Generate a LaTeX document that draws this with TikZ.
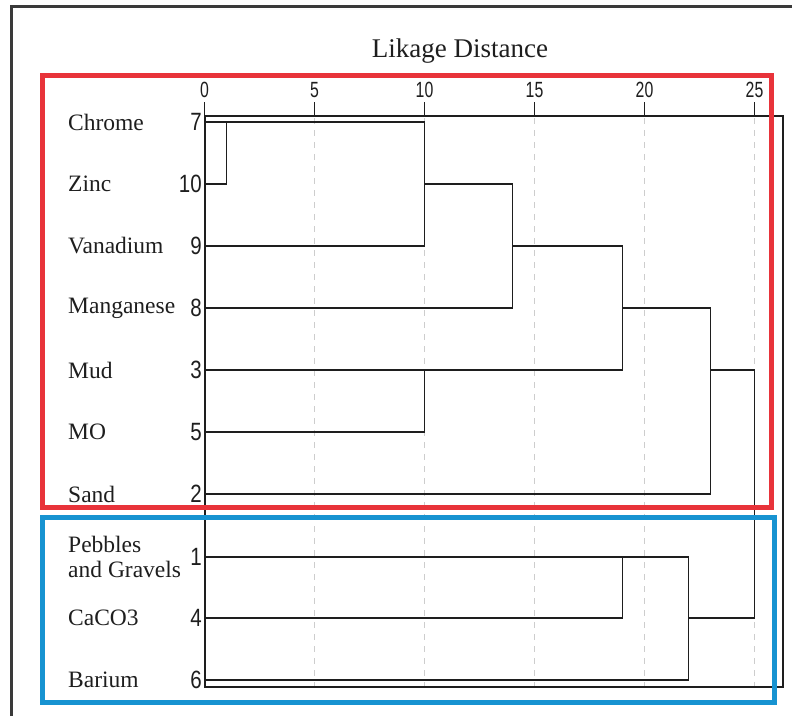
\documentclass[tikz,border=0pt]{standalone}
\usepackage{fontspec}
\setmainfont{Liberation Serif}
\newfontfamily\rownum[FakeStretch=0.82]{Liberation Sans}
\newfontfamily\ticknum[FakeStretch=0.72]{Liberation Sans}
\definecolor{redbox}{HTML}{E8333A}
\definecolor{bluebox}{HTML}{1793D1}
\definecolor{ink}{HTML}{1E1E1E}
\definecolor{framec}{HTML}{3A3A3A}
\definecolor{gridc}{HTML}{CDCDCD}
\tikzset{
  lab/.style={anchor=west, inner sep=0pt, font=\fontsize{23.5}{25}\selectfont, text=ink},
  num/.style={anchor=east, inner sep=0pt, font=\rownum\fontsize{25}{25}\selectfont, text=ink},
  tick/.style={anchor=base, inner sep=0pt, font=\ticknum\fontsize{22}{22}\selectfont, text=ink},
  tree/.style={draw=ink, line width=1.5pt},
  gridl/.style={draw=gridc, line width=1pt, dash pattern=on 6pt off 6pt},
  axisl/.style={draw=ink, line width=1.2pt},
  groupbox/.style={line width=5pt},
}
\begin{document}
\begin{tikzpicture}[x=1pt, y=-1pt]
\useasboundingbox (0,0) rectangle (792,716);
% outer frame (partially shown)
\draw[framec, line width=3pt] (11,716) -- (11,6) -- (792,6);
% title
\node[inner sep=0pt, font=\fontsize{27}{27}\selectfont, text=ink] (title) at (460,51) {Likage Distance};
% grid lines
\foreach \d in {5,10,15,20,25}{
  \draw[gridl] (204.5+22*\d,118) -- (204.5+22*\d,686);
}
% axis frame and ticks
\draw[axisl] (205,116) rectangle (783,687);
\foreach \d in {0,5,10,15,20,25}{
  \draw[axisl] (204.5+22*\d,102) -- (204.5+22*\d,116);
  \node[tick] (t\d) at (204.5+22*\d,97) {\d};
}
% row labels
\node[lab] (chrome) at (68,122) {Chrome};
\node[lab] (zinc) at (68,184) {Zinc};
\node[lab] (vanadium) at (68,246) {Vanadium};
\node[lab] (manganese) at (68,308) {Manganese};
\node[lab] (mud) at (68,370) {Mud};
\node[lab] (mo) at (68,432) {MO};
\node[lab] (sand) at (68,494) {Sand};
\node[lab, align=left] (pebbles) at (68,557) {Pebbles\\and Gravels};
\node[lab] (caco) at (68,618) {CaCO3};
\node[lab] (barium) at (68,680) {Barium};
% row numbers
\node[num] (n7) at (202,122) {7};
\node[num] (n10) at (202,184) {10};
\node[num] (n9) at (202,246) {9};
\node[num] (n8) at (202,308) {8};
\node[num] (n3) at (202,370) {3};
\node[num] (n5) at (202,432) {5};
\node[num] (n2) at (202,494) {2};
\node[num] (n1) at (202,557) {1};
\node[num] (n4) at (202,618) {4};
\node[num] (n6) at (202,680) {6};
% leaf coordinates
\coordinate (l7) at (205,122);
\coordinate (l10) at (205,184);
\coordinate (l9) at (205,246);
\coordinate (l8) at (205,308);
\coordinate (l3) at (205,370);
\coordinate (l5) at (205,432);
\coordinate (l2) at (205,494);
\coordinate (l1) at (205,557);
\coordinate (l4) at (205,618);
\coordinate (l6) at (205,680);
% dendrogram
\draw[tree] (l10) -- (226.5,184) -- (226.5,122);
\draw[tree] (l7) -- (424.5,122) -- (424.5,246);
\draw[tree] (l9) -- (424.5,246);
\draw[tree] (424.5,184) -- (512.5,184) -- (512.5,308);
\draw[tree] (l8) -- (512.5,308);
\draw[tree] (512.5,246) -- (622.5,246) -- (622.5,370);
\draw[tree] (l3) -- (622.5,370);
\draw[tree] (l5) -- (424.5,432) -- (424.5,370);
\draw[tree] (622.5,308) -- (710.5,308) -- (710.5,494);
\draw[tree] (l2) -- (710.5,494);
\draw[tree] (710.5,370) -- (754.5,370) -- (754.5,618);
\draw[tree] (l1) -- (688.5,557) -- (688.5,680);
\draw[tree] (l4) -- (622.5,618) -- (622.5,557);
\draw[tree] (l6) -- (688.5,680);
\draw[tree] (688.5,618) -- (754.5,618);
% group boxes
\draw[groupbox, redbox] (42.5,75.5) rectangle (771.5,507);
\draw[groupbox, bluebox] (42.5,517.5) rectangle (774.5,702.5);
\end{tikzpicture}
\end{document}
